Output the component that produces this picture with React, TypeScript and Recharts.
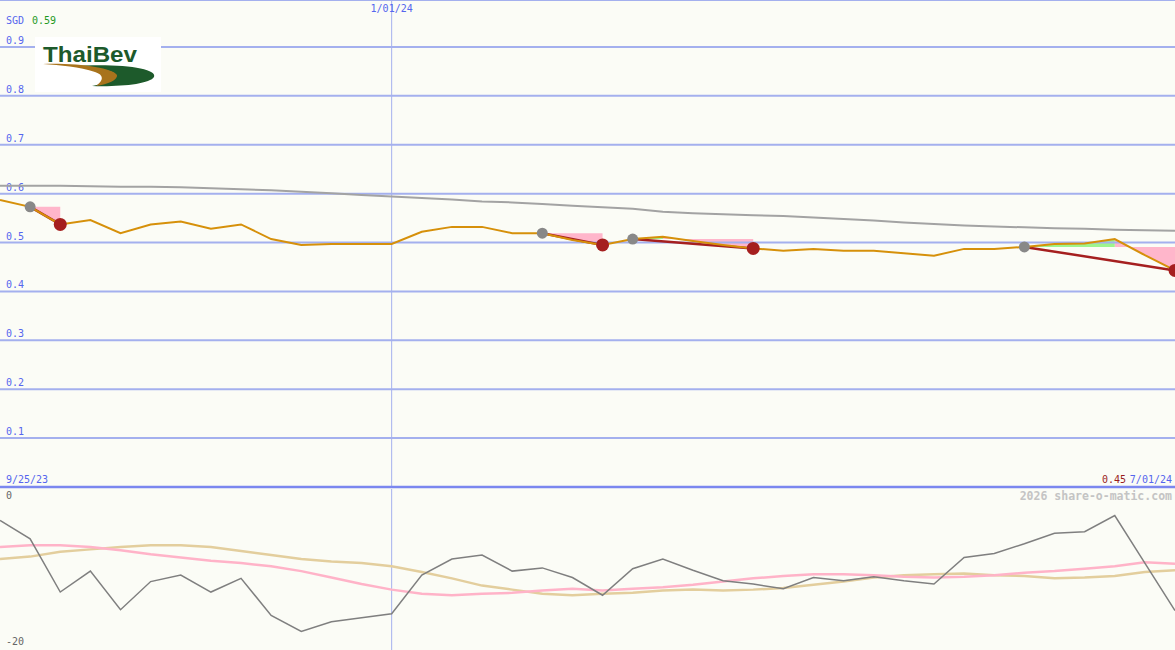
import { ComposedChart, LineChart, Line, Area, XAxis, YAxis, ReferenceLine } from 'recharts';

// weekly closes, 10/02/23 .. 7/01/24
const dates = [
  '10/02/23', '10/09/23', '10/16/23', '10/23/23', '10/30/23', '11/06/23', '11/13/23', '11/20/23',
  '11/27/23', '12/04/23', '12/11/23', '12/18/23', '12/25/23', '1/01/24', '1/08/24', '1/15/24',
  '1/22/24', '1/29/24', '2/05/24', '2/12/24', '2/19/24', '2/26/24', '3/04/24', '3/11/24',
  '3/18/24', '3/25/24', '4/01/24', '4/08/24', '4/15/24', '4/22/24', '4/29/24', '5/06/24',
  '5/13/24', '5/20/24', '5/27/24', '6/03/24', '6/10/24', '6/17/24', '6/24/24', '7/01/24',
];

const price = [
  0.587, 0.573, 0.537, 0.546, 0.519, 0.537, 0.543, 0.528, 0.537, 0.507,
  0.495, 0.497, 0.497, 0.497, 0.522, 0.532, 0.532, 0.519, 0.519, 0.505,
  0.495, 0.507, 0.512, 0.503, 0.495, 0.488, 0.483, 0.487, 0.483, 0.483,
  0.478, 0.473, 0.487, 0.487, 0.491, 0.497, 0.498, 0.507, 0.474, 0.443,
];

const longAvg = [
  0.616, 0.616, 0.616, 0.615, 0.614, 0.614, 0.613, 0.611, 0.609, 0.607,
  0.604, 0.601, 0.597, 0.594, 0.591, 0.588, 0.584, 0.582, 0.579, 0.575,
  0.572, 0.569, 0.563, 0.560, 0.558, 0.556, 0.554, 0.551, 0.548, 0.545,
  0.541, 0.538, 0.535, 0.533, 0.531, 0.529, 0.528, 0.526, 0.525, 0.524,
];

// [start, end] index of each sell signal
const signals = [[1, 2], [18, 20], [21, 25], [34, 39]];

const osc = [
  -3.9, -6.2, -12.8, -10.2, -15.0, -11.5, -10.7, -12.8, -11.1, -15.7,
  -17.7, -16.5, -16.0, -15.5, -10.7, -8.7, -8.2, -10.2, -9.8, -11.0,
  -13.2, -9.9, -8.7, -10.1, -11.4, -11.8, -12.4, -11.0, -11.4, -10.9,
  -11.4, -11.8, -8.5, -8.0, -6.8, -5.5, -5.3, -3.3, -9.2, -15.1,
];

const oscFast = [
  -7.2, -7.0, -7.0, -7.2, -7.6, -8.1, -8.5, -8.9, -9.2, -9.6,
  -10.2, -11.0, -11.8, -12.5, -13.0, -13.2, -13.0, -12.9, -12.6, -12.4,
  -12.6, -12.4, -12.2, -11.9, -11.5, -11.1, -10.8, -10.6, -10.6, -10.7,
  -10.9, -11.0, -10.9, -10.7, -10.4, -10.2, -9.9, -9.6, -9.1, -9.3,
];

const oscSlow = [
  -8.7, -8.4, -7.8, -7.5, -7.2, -7.0, -7.0, -7.2, -7.7, -8.2,
  -8.7, -9.0, -9.2, -9.6, -10.3, -11.1, -12.0, -12.5, -13.0, -13.2,
  -13.0, -12.9, -12.6, -12.5, -12.6, -12.5, -12.3, -11.9, -11.5, -11.0,
  -10.7, -10.6, -10.5, -10.7, -10.8, -11.1, -11.0, -10.8, -10.3, -10.1,
];

const priceTicks = [0.1, 0.2, 0.3, 0.4, 0.5, 0.6, 0.7, 0.8, 0.9];
const oscTicks = [0, -20];

const BG = '#fbfcf6';
const GRID = '#a4b0ee';
const BLUE = '#5566ee';
const FONT = '"DejaVu Sans Mono", "Liberation Mono", monospace';

const priceData = dates.map((date, i) => {
  const row: any = { date, price: price[i], avg: longAvg[i] };
  signals.forEach(([s, e], k) => {
    if (i < s || i > e) return;
    const base = price[s];
    const p = price[i];
    if (p >= base) row[`up${k}`] = [base, p];
    if (p <= base || (i < e && price[i + 1] < base)) row[`dn${k}`] = [p, base];
    if (i === s || i === e) row[`tr${k}`] = p;
    if (i === s) row.start = p;
    if (i === e) row.end = p;
  });
  return row;
});

const oscData = dates.map((date, i) => ({ date, osc: osc[i], fast: oscFast[i], slow: oscSlow[i] }));

// labels hung on the reference lines (zero-size axes draw no ticks)
const GridLabel = ({ viewBox, text, color, dy }: any) => (
  <text x={6} y={viewBox.y + dy} fill={color} fontSize={10} fontFamily={FONT}>
    {text}
  </text>
);

const DateLabel = ({ viewBox, text }: any) => (
  <text x={viewBox.x} y={12} textAnchor="middle" fill={BLUE} fontSize={10} fontFamily={FONT}>
    {text}
  </text>
);

export default function App() {
  return (
    <div style={{ position: 'absolute', left: 0, top: 0, width: 1175, height: 650, background: BG, overflow: 'hidden' }}>
      <div style={{ position: 'absolute', left: 0, top: 0 }}>
        <ComposedChart width={1175} height={489} data={priceData} margin={{ top: 0, right: 0, bottom: 2, left: 0 }}>
          <XAxis dataKey="date" hide />
          <YAxis type="number" domain={[0, 0.996]} hide />
          {priceTicks.map((v) => (
            <ReferenceLine key={v} y={v} stroke={GRID} strokeWidth={2}
              label={<GridLabel text={v.toFixed(1)} color={BLUE} dy={-3} />} />
          ))}
          <ReferenceLine y={0.996} stroke={GRID} strokeWidth={2} />
          <ReferenceLine x="1/01/24" stroke={GRID} strokeWidth={1} label={<DateLabel text="1/01/24" />} />
          <ReferenceLine y={0} stroke="#7b87ef" strokeWidth={2.5} />
          {signals.map((_, k) => (
            <Area key={`dn${k}`} dataKey={`dn${k}`} type="linear" stroke="none" fill="#ffb6cb"
              fillOpacity={1} isAnimationActive={false} activeDot={false} />
          ))}
          {signals.map((_, k) => (
            <Area key={`up${k}`} dataKey={`up${k}`} type="linear" stroke="none" fill="#9ef58e"
              fillOpacity={1} isAnimationActive={false} activeDot={false} />
          ))}
          <Line dataKey="avg" type="linear" stroke="#a3a3a3" strokeWidth={2} dot={false} isAnimationActive={false} />
          <Line dataKey="start" stroke="none" dot={{ r: 5.5, fill: '#888888', stroke: 'none' }}
            activeDot={false} isAnimationActive={false} />
          <Line dataKey="end" stroke="none" dot={{ r: 6.5, fill: '#a51f1f', stroke: 'none' }}
            activeDot={false} isAnimationActive={false} />
          {signals.map((_, k) => (
            <Line key={`tr${k}`} dataKey={`tr${k}`} type="linear" connectNulls stroke="#a51f1f"
              strokeWidth={2.5} dot={false} isAnimationActive={false} />
          ))}
          <Line dataKey="price" type="linear" stroke="#d6900a" strokeWidth={2} dot={false} isAnimationActive={false} />
        </ComposedChart>
      </div>

      <div style={{ position: 'absolute', left: 0, top: 489 }}>
        <LineChart width={1175} height={161} data={oscData} margin={{ top: 0, right: 0, bottom: 0, left: 0 }}>
          <XAxis dataKey="date" hide />
          <YAxis type="number" domain={[-20, 0]} hide />
          {oscTicks.map((v) => (
            <ReferenceLine key={v} y={v} stroke="none"
              label={<GridLabel text={String(v)} color="#666" dy={v === 0 ? 10 : -5} />} />
          ))}
          <ReferenceLine x="1/01/24" stroke={GRID} strokeWidth={1} />
          <Line dataKey="slow" type="linear" stroke="#e3ce9d" strokeWidth={2.5} dot={false} isAnimationActive={false} />
          <Line dataKey="fast" type="linear" stroke="#ffb3c8" strokeWidth={2.5} dot={false} isAnimationActive={false} />
          <Line dataKey="osc" type="linear" stroke="#7f7f7f" strokeWidth={1.5} dot={false} isAnimationActive={false} />
        </LineChart>
      </div>

      <svg width={1175} height={650} style={{ position: 'absolute', left: 0, top: 0 }} fontFamily={FONT} fontSize={10}>
        <text x={6} y={24} fill={BLUE}>SGD</text>
        <text x={32} y={24} fill="#1f9a1f">0.59</text>
        <text x={6} y={483} fill={BLUE}>9/25/23</text>
        <text x={1126} y={483} textAnchor="end" fill="#9a1c1c">0.45</text>
        <text x={1172} y={483} textAnchor="end" fill={BLUE}>7/01/24</text>
        <text x={1172} y={500} textAnchor="end" fill="#c4c4c4" fontSize={11.5} fontWeight="bold">2026 share-o-matic.com</text>
        <g>
          <rect x={35} y={37} width={126} height={55} fill="#ffffff" />
          <text x={43} y={62} fill="#1d5a2b" fontFamily='"Liberation Sans", Arial, sans-serif' fontSize={22}
            fontWeight="bold" textLength={94} lengthAdjust="spacingAndGlyphs">ThaiBev</text>
          <path d="M72 66 C120 63 158 68 154 77 C150 84 120 87 92 86 C112 82 120 76 112 72 C102 68 88 67 72 66 Z" fill="#1d5a2b" />
          <path d="M43 64 C80 63 112 68 117 75 C118 80 108 84 96 86 C104 80 104 75 95 72 C80 67 60 65 43 64 Z" fill="#a8731c" />
        </g>
      </svg>
    </div>
  );
}
